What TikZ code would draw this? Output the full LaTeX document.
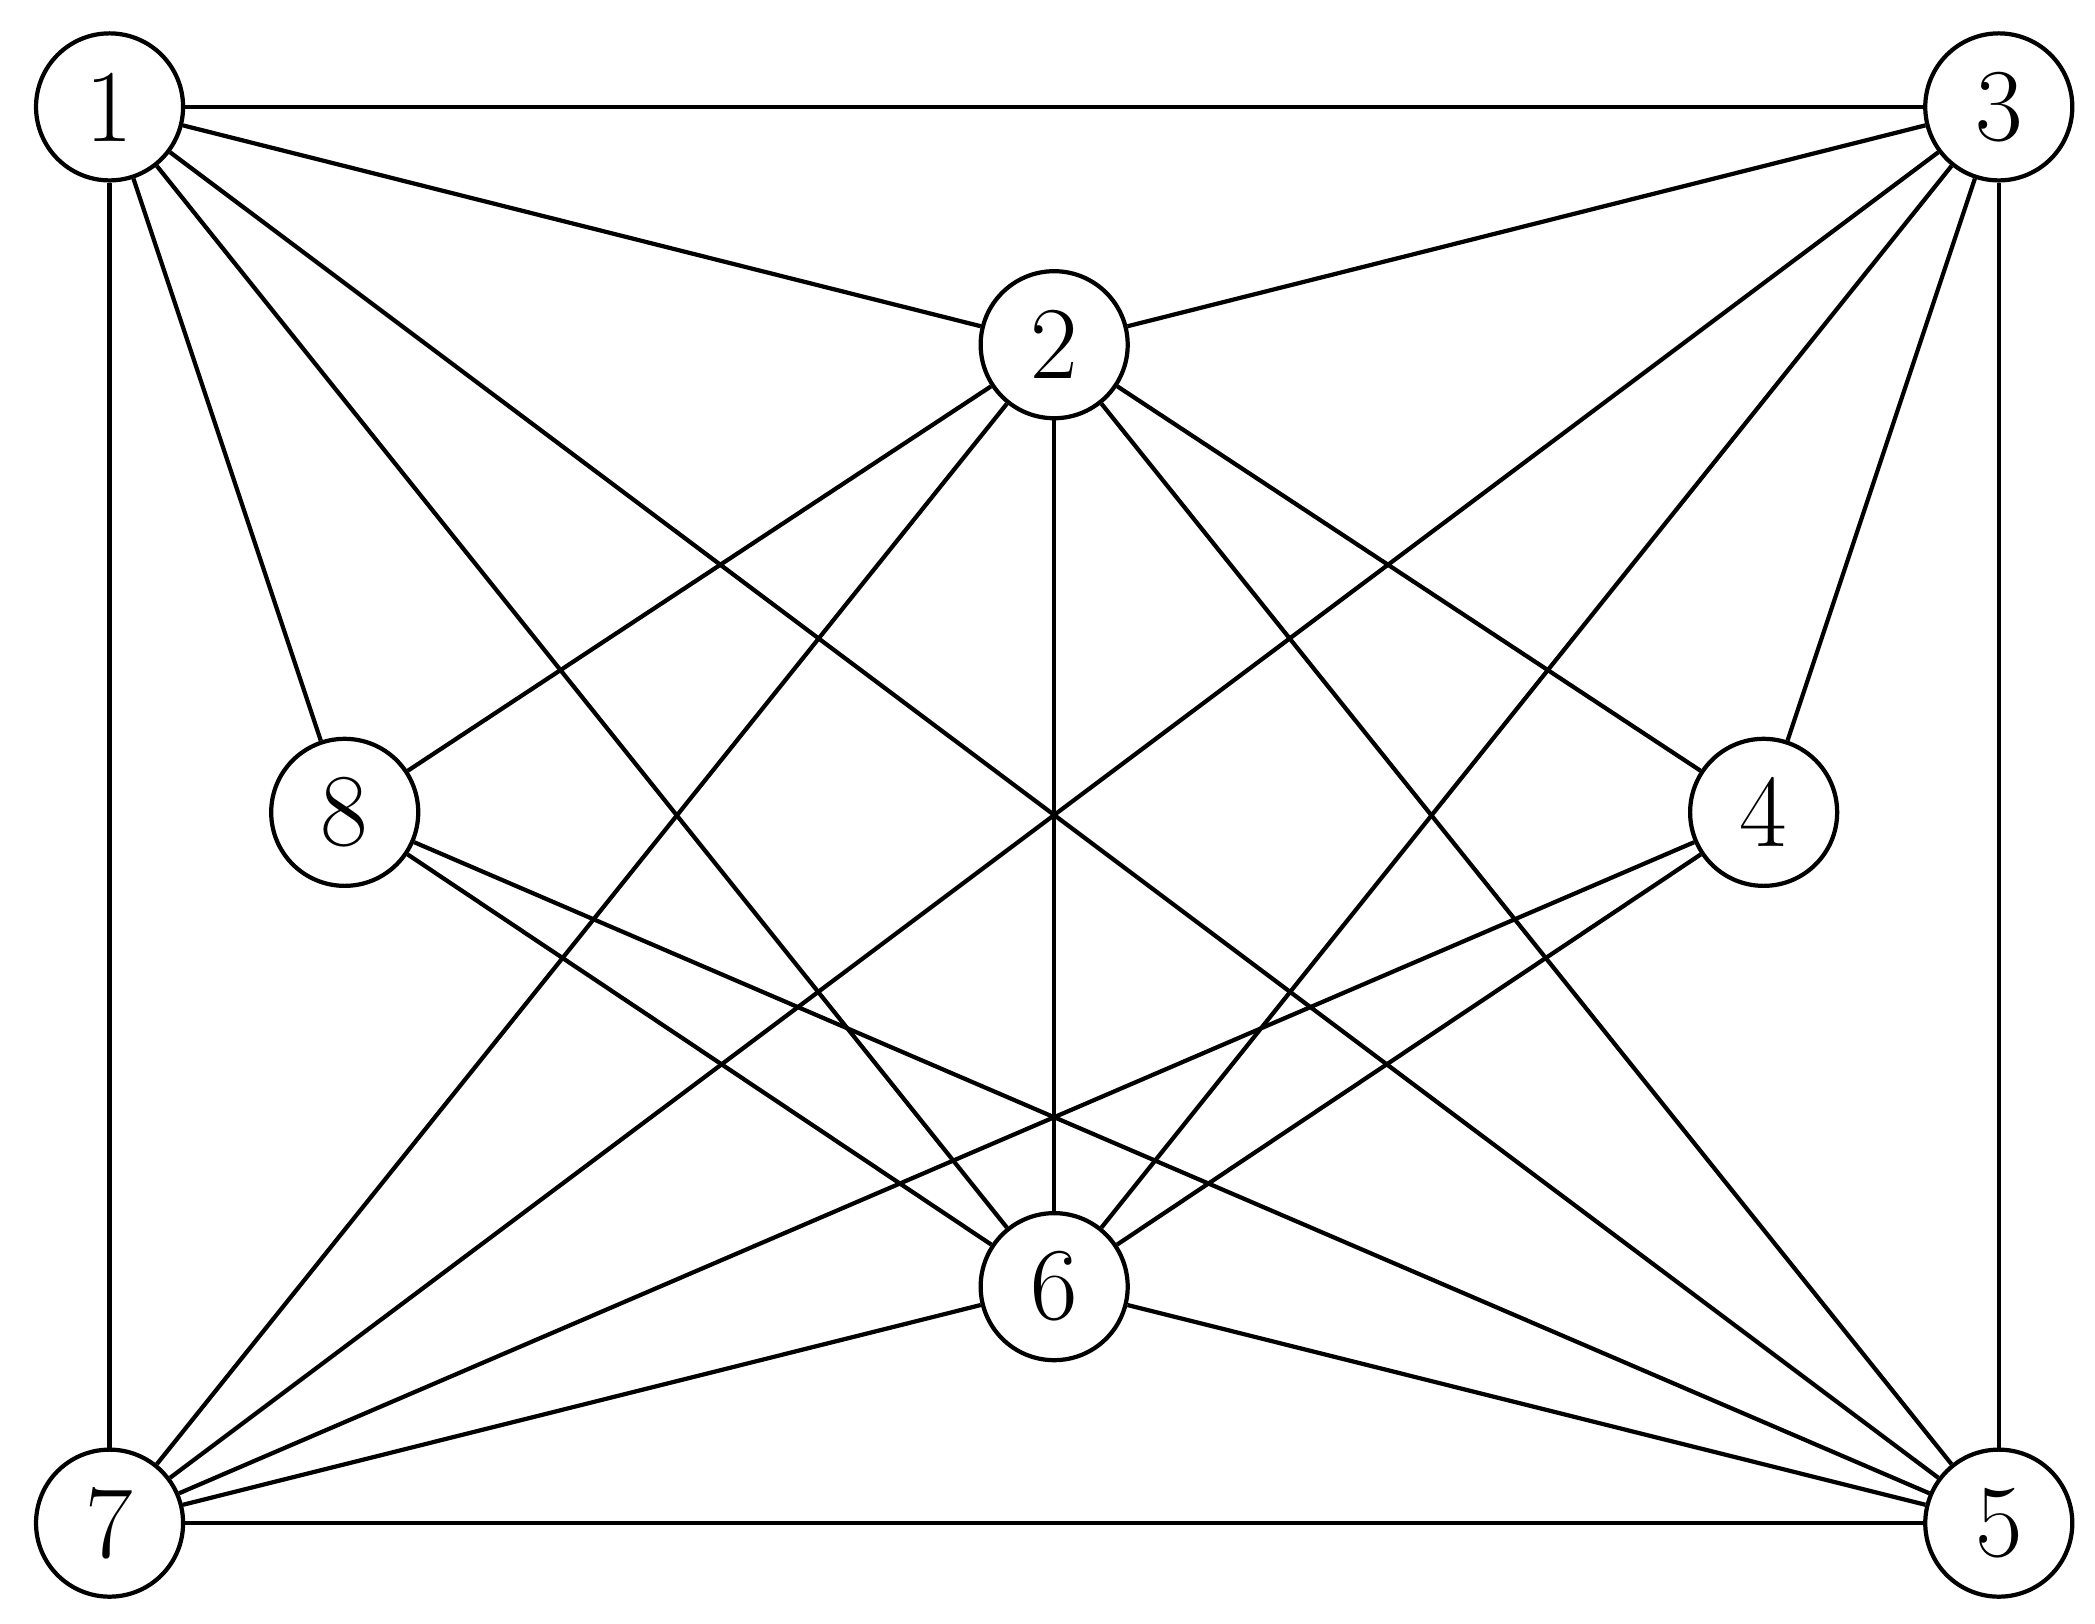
\documentclass[tikz,border=0pt]{standalone}
\begin{document}
\begin{tikzpicture}[x=0.01cm,y=-0.01cm,
 v/.style={circle,draw,line width=0.9pt,minimum size=1.1cm,inner sep=0pt,font=\fontsize{22}{24}\selectfont},
 e/.style={line width=0.9pt}]
\useasboundingbox (0,0) rectangle (1568,1215);
\node[v] (1) at (82,80) {1};
\node[v] (3) at (1496,80) {3};
\node[v] (2) at (789,258) {2};
\node[v] (8) at (258,608) {8};
\node[v] (4) at (1320,608) {4};
\node[v] (6) at (789,963) {6};
\node[v] (7) at (82,1140) {7};
\node[v] (5) at (1496,1140) {5};
\foreach \a/\b in {1/3,1/7,1/2,1/8,1/6,1/5,3/2,3/7,3/6,3/4,3/5,2/8,2/7,2/6,2/4,2/5,8/6,8/5,4/7,4/6,6/7,6/5,7/5}
 \draw[e] (\a) -- (\b);
\end{tikzpicture}
\end{document}
